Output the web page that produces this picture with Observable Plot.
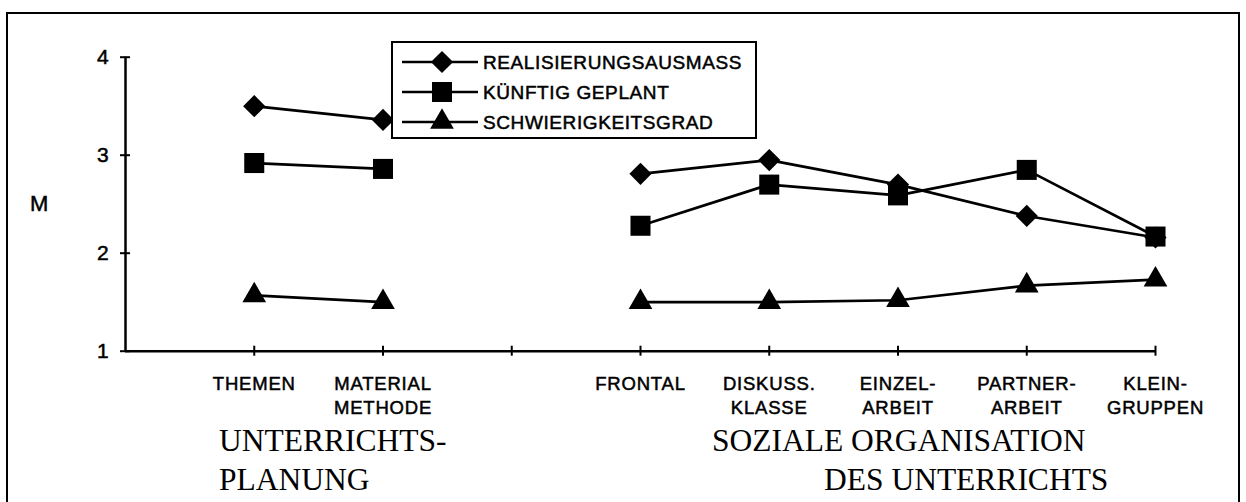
<!DOCTYPE html>
<html>
<head>
<meta charset="utf-8">
<script src="https://cdn.jsdelivr.net/npm/d3@7"></script>
<script src="https://cdn.jsdelivr.net/npm/@observablehq/plot@0.6"></script>
<style>
  html, body { margin: 0; padding: 0; background: #fff; }
  #wrap { position: relative; width: 1246px; height: 502px; overflow: hidden; background: #fff; }
  #frame { position: absolute; left: 6px; top: 12px; width: 1234px; height: 540px; border: 2px solid #000; box-sizing: border-box; }
  #chart { position: absolute; left: 0; top: 0; }
  #chart svg text { letter-spacing: 0.8px; stroke: #000; stroke-width: 0.5px; }
  #legend { position: absolute; left: 391px; top: 41px; }
  #legend text { letter-spacing: 0.6px; stroke: #000; stroke-width: 0.5px; }
  .group { position: absolute; font-family: "Liberation Serif", "Times New Roman", serif; font-size: 31.5px; line-height: 38px; color: #000; white-space: pre; }
</style>
</head>
<body>
<div id="wrap">
  <div id="frame"></div>
  <div id="chart"></div>
  <div id="legend"></div>
  <div class="group" id="g1a" style="left:219px; top:422px;"></div>
  <div class="group" id="g1b" style="left:219px; top:461px;"></div>
  <div class="group" id="g2a" style="left:712px; top:422px;"></div>
  <div class="group" id="g2b" style="left:824px; top:461px;"></div>
</div>
<script>
// ---- data ----
const categories = ["THEMEN", "MATERIAL\nMETHODE", "", "FRONTAL", "DISKUSS.\nKLASSE", "EINZEL-\nARBEIT", "PARTNER-\nARBEIT", "KLEIN-\nGRUPPEN"];
const seriesNames = ["REALISIERUNGSAUSMASS", "KÜNFTIG GEPLANT", "SCHWIERIGKEITSGRAD"];
const realisierung  = [3.50, 3.36, null, 2.81, 2.95, 2.70, 2.38, 2.16];
const geplant       = [2.92, 2.86, null, 2.28, 2.70, 2.59, 2.85, 2.17];
const schwierigkeit = [1.57, 1.50, null, 1.50, 1.50, 1.52, 1.67, 1.73];
const yTicks = [1, 2, 3, 4];
const yLabel = "M";
const groupLabel1 = ["UNTERRICHTS-", "PLANUNG"];
const groupLabel2 = ["SOZIALE ORGANISATION", "DES UNTERRICHTS"];

// ---- build table ----
const seriesValues = [realisierung, geplant, schwierigkeit];
const symbols = ["diamond2", "square", "triangle"];
const radii = [10, 11.3, 8.8];
const rows = [];
seriesValues.forEach((vals, s) => {
  vals.forEach((v, i) => rows.push({series: seriesNames[s], pos: i + 1, value: v}));
});
const catRows = categories.map((c, i) => ({pos: i + 1, label: c}));
const xTicks = categories.map((c, i) => i + 1);

const font = "'Liberation Sans', Arial, sans-serif";

const marks = [
  // axes lines
  Plot.ruleX([0], {y1: 1, y2: 4, stroke: "#000", strokeWidth: 2.5}),
  Plot.ruleY([1], {x1: 0, x2: categories.length, stroke: "#000", strokeWidth: 2.5}),
  // tick marks crossing the axes
  Plot.ruleY(yTicks, {x1: 0, x2: 0, insetLeft: -5, insetRight: -5, stroke: "#000", strokeWidth: 2}),
  Plot.ruleX(xTicks, {y1: 1, y2: 1, insetTop: -5, insetBottom: -5, stroke: "#000", strokeWidth: 2}),
  // tick labels
  Plot.text(yTicks, {x: 0, y: d => d, text: d => String(d), textAnchor: "end", dx: -16, fontSize: 21}),
  Plot.text(catRows, {x: "pos", y: 1, text: "label", lineAnchor: "top", dy: 21, fontSize: 18.5, lineHeight: 1.33}),
  Plot.text([yLabel], {frameAnchor: "left", textAnchor: "middle", dx: -86, fontSize: 22}),
  // data lines
  Plot.line(rows, {x: "pos", y: "value", z: "series", stroke: "#000", strokeWidth: 2.7})
];
seriesNames.forEach((name, s) => {
  marks.push(Plot.dot(rows.filter(d => d.series === name && d.value != null),
    {x: "pos", y: "value", symbol: () => symbols[s], r: radii[s], fill: "#000", stroke: "none"}));
});

const chart = Plot.plot({
  width: 1246,
  height: 502,
  marginLeft: 125,
  marginRight: 91,
  marginTop: 56.7,
  marginBottom: 151.3,
  style: {fontFamily: font, background: "transparent", color: "#000"},
  x: {type: "linear", domain: [0, categories.length], axis: null},
  y: {type: "linear", domain: [1, 4], axis: null},
  symbol: {type: "identity"},
  marks
});
document.getElementById("chart").appendChild(chart);

// ---- legend ----
const lw = 366, lh = 98;
const lsvg = d3.select("#legend").append("svg").attr("width", lw).attr("height", lh);
lsvg.append("rect").attr("x", 1).attr("y", 1).attr("width", lw - 2).attr("height", lh - 2)
  .attr("fill", "#fff").attr("stroke", "#000").attr("stroke-width", 2);
const symMap = {diamond2: d3.symbolDiamond2, square: d3.symbolSquare, triangle: d3.symbolTriangle};
seriesNames.forEach((name, s) => {
  const yy = 21 + s * 30;
  const g = lsvg.append("g");
  g.append("line").attr("x1", 11).attr("x2", 87).attr("y1", yy).attr("y2", yy)
    .attr("stroke", "#000").attr("stroke-width", 2.5);
  const size = Math.PI * radii[s] * radii[s];
  g.append("path").attr("d", d3.symbol(symMap[symbols[s]], size)())
    .attr("transform", `translate(51,${yy})`).attr("fill", "#000");
  g.append("text").attr("x", 92).attr("y", yy).attr("dy", "0.36em")
    .attr("font-family", font).attr("font-size", 19).text(name);
});

document.getElementById("g1a").textContent = groupLabel1[0];
document.getElementById("g1b").textContent = groupLabel1[1];
document.getElementById("g2a").textContent = groupLabel2[0];
document.getElementById("g2b").textContent = groupLabel2[1];
</script>
</body>
</html>
